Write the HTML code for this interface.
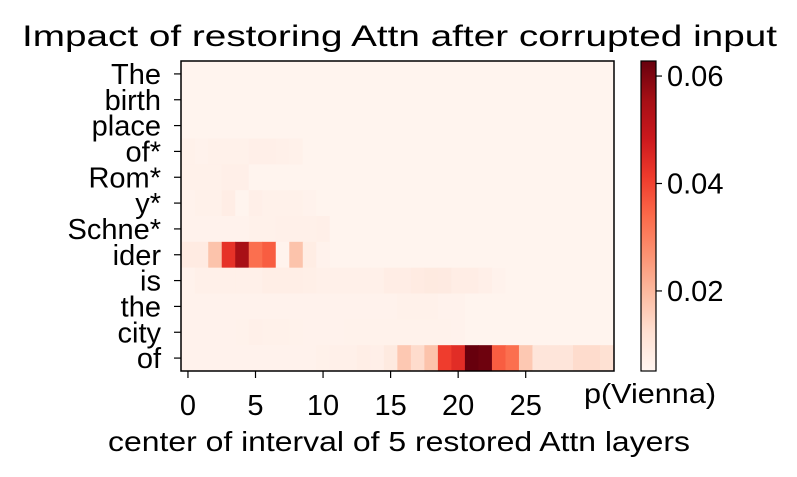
<!DOCTYPE html>
<html><head><meta charset="utf-8">
<style>
html,body{margin:0;padding:0;background:#fff;}
svg{display:block;font-family:"Liberation Sans","DejaVu Sans",sans-serif;}
</style></head>
<body>
<svg id="chart" width="797" height="477" viewBox="0 0 797 477">
<text x="22" y="46" font-size="30" textLength="755" lengthAdjust="spacingAndGlyphs" fill="#000">Impact of restoring Attn after corrupted input</text>
<g id="cells"></g>
<rect x="181" y="61" width="433" height="310" fill="none" stroke="#000" stroke-width="1.5"/>
<g id="yaxis"></g>
<g id="xaxis"></g>
<text x="108" y="451" font-size="28" textLength="582" lengthAdjust="spacingAndGlyphs">center of interval of 5 restored Attn layers</text>
<defs><linearGradient id="cbgrad" x1="0" y1="1" x2="0" y2="0">
<stop offset="0" stop-color="#fff5f0"/><stop offset="0.125" stop-color="#fee0d2"/><stop offset="0.25" stop-color="#fcbba1"/><stop offset="0.375" stop-color="#fc9272"/><stop offset="0.5" stop-color="#fb6a4a"/><stop offset="0.625" stop-color="#ef3b2c"/><stop offset="0.75" stop-color="#cb181d"/><stop offset="0.875" stop-color="#a50f15"/><stop offset="1" stop-color="#67000d"/>
</linearGradient></defs>
<rect x="641" y="61" width="15" height="310" fill="url(#cbgrad)" stroke="#000" stroke-width="1.2"/>
<g id="cbaxis"></g>
<text x="584" y="403" font-size="28" textLength="132" lengthAdjust="spacingAndGlyphs">p(Vienna)</text>
</svg>
<script>
const tokens = ["The","birth","place","of*","Rom*","y*","Schne*","ider","is","the","city","of"];
const xTicks = [0,5,10,15,20,25];
const cbTicks = [0.02,0.04,0.06];
const cbLabels = ["0.02","0.04","0.06"];
const B = 0.0055;
const row0 = [B,B,B,B,B,B,B,B,B,B,B,B,B,B,B,B,B,B,B,B,B,B,B,B,B,B,B,B,B,B,B,B];
const row1 = [B,B,B,B,B,B,B,B,B,B,B,B,B,B,B,B,B,B,B,B,B,B,B,B,B,B,B,B,B,B,B,B];
const row2 = [B,B,B,B,B,B,B,B,B,B,B,B,B,B,B,B,B,B,B,B,B,B,B,B,B,B,B,B,B,B,B,B];
const row3 = [0.0065,0.006,0.0065,0.0065,0.0065,0.007,0.007,0.0068,0.0066,B,B,B,B,B,B,B,B,B,B,B,B,B,B,B,B,B,B,B,B,B,B,B];
const row4 = [0.0065,0.0065,0.0065,0.007,0.007,B,B,B,B,B,B,B,B,B,B,B,B,B,B,B,B,B,B,B,B,B,B,B,B,B,B,B];
const row5 = [0.006,0.0065,0.0065,0.0078,0.0055,0.007,0.0065,0.0065,0.0065,0.006,B,B,B,B,B,B,B,B,B,B,B,B,B,B,B,B,B,B,B,B,B,B];
const row6 = [0.006,0.006,0.006,0.006,0.006,0.0065,0.0065,0.0068,0.0068,0.0068,0.007,B,B,B,B,B,B,B,B,B,B,B,B,B,B,B,B,B,B,B,B,B];
const row7 = [0.0085,0.0085,0.018,0.043,0.055,0.033,0.036,0.0058,0.018,0.008,0.006,B,B,B,B,B,B,B,B,B,B,B,B,B,B,B,B,B,B,B,B,B];
const row8 = [0.006,0.0068,0.0068,0.0068,0.0068,0.0068,0.0075,0.0075,0.0075,0.0072,0.0068,0.0068,0.0068,0.0068,0.0068,0.0078,0.0078,0.0085,0.009,0.0088,0.0078,0.0078,0.007,0.006,B,B,B,B,B,B,B,B];
const row9 = [0.006,0.006,0.006,0.006,0.006,0.006,0.006,0.006,0.006,0.006,0.006,0.006,0.006,0.006,0.006,0.006,0.0065,0.0065,0.0065,0.006,0.006,B,B,B,B,B,B,B,B,B,B,B];
const row10 = [0.006,0.006,0.006,0.006,0.0062,0.0068,0.0065,0.0065,0.0062,0.006,0.006,0.006,0.0062,0.0062,0.0062,0.0062,0.0062,0.0062,0.0062,0.0062,0.006,B,B,B,B,B,B,B,B,B,B,B];
const row11 = [0.006,0.006,0.006,0.006,0.006,0.006,0.006,0.006,0.006,0.006,0.0065,0.0068,0.0068,0.0075,0.007,0.009,0.017,0.013,0.018,0.041,0.044,0.063,0.062,0.036,0.033,0.017,0.0105,0.0105,0.0105,0.013,0.013,0.012];
const values = [row0,row1,row2,row3,row4,row5,row6,row7,row8,row9,row10,row11];

const vmin = 0.0051, vmax = 0.0628;
const X0 = 181.2, CW = 13.51, Y0 = 61, RH = 310/12;
const cbTop = 61, cbBot = 371;
function xPos(i){ return X0 + i*CW; }
function yPos(r){ return Y0 + r*RH; }
function cbY(v){ return cbBot - (v - vmin)/(vmax - vmin)*(cbBot - cbTop); }
const stops = ["#fff5f0","#fee0d2","#fcbba1","#fc9272","#fb6a4a","#ef3b2c","#cb181d","#a50f15","#67000d"];
function hex(h){ return [1,3,5].map(k=>parseInt(h.substr(k,2),16)); }
function color(v){
  let t = Math.max(0, Math.min(1, (v - vmin)/(vmax - vmin)));
  const p = t*8, i = Math.min(7, Math.floor(p)), f = p - i;
  const a = hex(stops[i]), b = hex(stops[i+1]);
  return "rgb(" + a.map((c,k)=>Math.round(c + (b[k]-c)*f)).join(",") + ")";
}
const NS = "http://www.w3.org/2000/svg";
function mk(tag, attrs, parent){ const e = document.createElementNS(NS, tag); for (const k in attrs) e.setAttribute(k, attrs[k]); parent.appendChild(e); return e; }

const cells = document.getElementById("cells");
values.forEach((row, r) => {
  row.forEach((v, c) => {
    const rect = mk("rect", {x: xPos(c), y: yPos(r), width: CW + 0.4, height: RH + 0.4, fill: color(v)}, cells);
    
    
  });
});

const yaxis = document.getElementById("yaxis");
tokens.forEach((t, r) => {
  const y = yPos(r) + RH/2;
  const tk = mk("line", {x1: 174, x2: 181, y1: y, y2: y, stroke: "#000", "stroke-width": 1.2}, yaxis);
  
  
  const tx = mk("text", {x: 161, y: y + 10, "font-size": 29, "text-anchor": "end"}, yaxis);
  tx.textContent = t;
  
  
});

const xaxis = document.getElementById("xaxis");
xTicks.forEach(v => {
  const x = xPos(v) + CW/2;
  const tk = mk("line", {x1: x, x2: x, y1: 371, y2: 378, stroke: "#000", "stroke-width": 1.2}, xaxis);
  
  
  const tx = mk("text", {x: x, y: 415, "font-size": 29, "text-anchor": "middle"}, xaxis);
  tx.textContent = String(v);
  
  
});

const cbaxis = document.getElementById("cbaxis");
cbTicks.forEach((v, i) => {
  const y = cbY(v);
  const tk = mk("line", {x1: 656, x2: 662, y1: y, y2: y, stroke: "#000", "stroke-width": 1.2}, cbaxis);
  
  
  const tx = mk("text", {x: 667, y: y + 10, "font-size": 29}, cbaxis);
  tx.textContent = cbLabels[i];
  
  
});
</script>
</body></html>
